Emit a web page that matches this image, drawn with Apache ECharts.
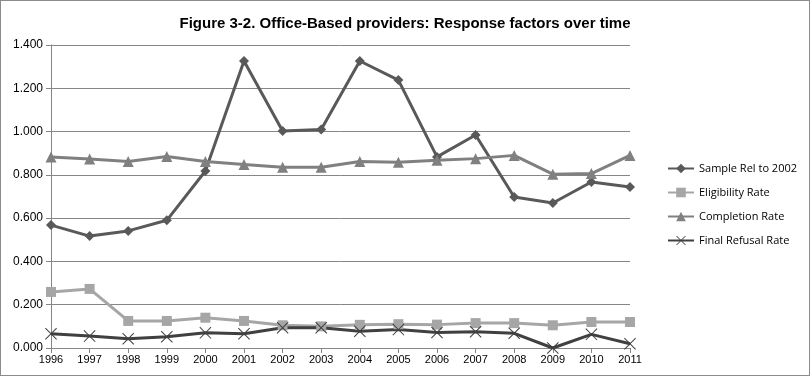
<!DOCTYPE html>
<html>
<head>
<meta charset="utf-8" />
<title>Response factors over time</title>
<script src="https://cdn.jsdelivr.net/npm/echarts@6/dist/echarts.min.js"></script>
<style>
body { margin: 0; padding: 0; background: #fff; }
#main { width: 808px; height: 374px; border: 1px solid #8c8c8c; }
</style>
</head>
<body>
<div id="main"></div>
<script>
var years = ['1996','1997','1998','1999','2000','2001','2002','2003','2004','2005','2006','2007','2008','2009','2010','2011'];
var sampleRel = [0.568,0.517,0.541,0.590,0.818,1.326,1.003,1.010,1.326,1.238,0.883,0.984,0.698,0.670,0.767,0.744];
var eligibility = [0.259,0.273,0.125,0.125,0.140,0.125,0.105,0.100,0.107,0.110,0.108,0.115,0.115,0.105,0.120,0.120];
var completion = [0.882,0.873,0.862,0.885,0.862,0.848,0.835,0.835,0.862,0.858,0.868,0.875,0.890,0.803,0.806,0.890];
var refusal = [0.066,0.055,0.043,0.052,0.070,0.066,0.094,0.094,0.077,0.085,0.072,0.075,0.068,0.000,0.063,0.020];

// thin X marker
var xMark = 'path://M0,0.6L0.6,0L5,4.4L9.4,0L10,0.6L5.6,5L10,9.4L9.4,10L5,5.6L0.6,10L0,9.4L4.4,5Z';

var chart = echarts.init(document.getElementById('main'));
chart.setOption({
  animation: false,
  title: {
    text: 'Figure 3-2. Office-Based providers: Response factors over time',
    left: 'center', top: 10,
    textStyle: { fontFamily: 'Liberation Sans', fontSize: 15, fontWeight: 'bold', color: '#000' }
  },
  grid: { left: 50, right: 179, top: 44, bottom: 27 },
  legend: {
    orient: 'vertical', left: 661, top: 157, itemGap: 13,
    itemWidth: 26, itemHeight: 12,
    textStyle: { fontFamily: 'Open Sans', fontSize: 11, color: '#000' },
    data: ['Sample Rel to 2002', 'Eligibility Rate', 'Completion Rate', 'Final Refusal Rate']
  },
  xAxis: {
    type: 'category', data: years, boundaryGap: false,
    axisLine: { lineStyle: { color: '#868686' } },
    axisTick: { show: true, alignWithLabel: true, lineStyle: { color: '#868686' } },
    axisLabel: { color: '#000', fontFamily: 'Liberation Sans', fontSize: 11, margin: 6 }
  },
  yAxis: {
    type: 'value', min: 0, max: 1.4, interval: 0.2,
    axisLine: { show: true, lineStyle: { color: '#868686' } },
    axisTick: { show: true, lineStyle: { color: '#868686' } },
    splitLine: { lineStyle: { color: '#868686' } },
    axisLabel: { color: '#000', fontFamily: 'Liberation Sans', fontSize: 12, formatter: function (v) { return v.toFixed(3); } }
  },
  series: [
    { name: 'Sample Rel to 2002', type: 'line', data: sampleRel, symbol: 'diamond', symbolSize: 10,
      lineStyle: { color: '#595959', width: 3 }, itemStyle: { color: '#595959' } },
    { name: 'Eligibility Rate', type: 'line', data: eligibility, symbol: 'rect', symbolSize: 10,
      lineStyle: { color: '#a6a6a6', width: 3 }, itemStyle: { color: '#a6a6a6' } },
    { name: 'Completion Rate', type: 'line', data: completion, symbol: 'triangle', symbolSize: 11,
      lineStyle: { color: '#808080', width: 3 }, itemStyle: { color: '#808080' } },
    { name: 'Final Refusal Rate', type: 'line', data: refusal, symbol: xMark, symbolSize: 12,
      lineStyle: { color: '#404040', width: 3 }, itemStyle: { color: '#404040' } }
  ]
});
</script>
</body>
</html>
